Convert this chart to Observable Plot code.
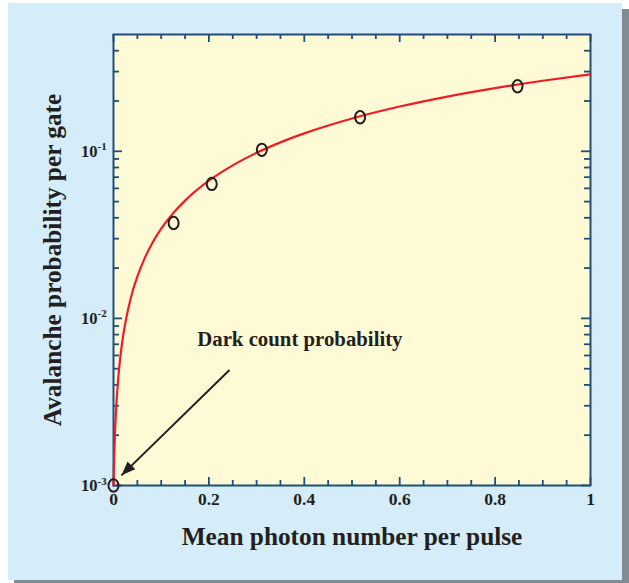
<!DOCTYPE html>
<html>
<head>
<meta charset="utf-8">
<script src="https://cdn.jsdelivr.net/npm/d3@7"></script>
<script src="https://cdn.jsdelivr.net/npm/@observablehq/plot@0.6"></script>
<style>
  html, body { margin: 0; padding: 0; background: #ffffff; }
  #wrap { position: relative; width: 629px; height: 583px; overflow: hidden; }
  #shadow { position: absolute; left: 14px; top: 9px; width: 615px; height: 574px; background: #7f8c93; }
  #panel { position: absolute; left: 8px; top: 3px; width: 614px; height: 577px; background: #d5ecf9; }
  #chart { position: absolute; left: 0; top: 0; }
</style>
</head>
<body>
<div id="wrap">
  <div id="shadow"></div>
  <div id="panel"></div>
  <div id="chart"></div>
</div>
<script>
// ---- data ----
const pointX = [0, 0.126, 0.206, 0.311, 0.517, 0.847];
const pointY = [0.001, 0.0372, 0.0638, 0.102, 0.160, 0.245];

const curveX = [0, 0.002, 0.005, 0.01, 0.015, 0.02, 0.03, 0.04, 0.05, 0.065, 0.08, 0.1, 0.125, 0.15, 0.2, 0.25, 0.3, 0.35, 0.4, 0.5, 0.6, 0.7, 0.8, 0.9, 1.0];
const curveY = [0.001, 0.00168, 0.0027, 0.0044, 0.0061, 0.0078, 0.0111, 0.0145, 0.0178, 0.0228, 0.0278, 0.0344, 0.0426, 0.0507, 0.0667, 0.0824, 0.0979, 0.1131, 0.1280, 0.1572, 0.1853, 0.2126, 0.2388, 0.2643, 0.2889];

const xTickValues = [0, 0.2, 0.4, 0.6, 0.8, 1];
const xTickLabels = ["0", "0.2", "0.4", "0.6", "0.8", "1"];
const xMinorTicks = [0.05, 0.1, 0.15, 0.25, 0.3, 0.35, 0.45, 0.5, 0.55, 0.65, 0.7, 0.75, 0.85, 0.9, 0.95];

const yTickValues = [0.001, 0.01, 0.1];
const yTickBase = ["10", "10", "10"];
const yTickExponents = ["-3", "-2", "-1"];
const yMinorTicks = [0.002, 0.003, 0.004, 0.005, 0.006, 0.007, 0.008, 0.009,
                     0.02, 0.03, 0.04, 0.05, 0.06, 0.07, 0.08, 0.09,
                     0.2, 0.3, 0.4];

const xDomain = [0, 1];
const yDomain = [0.001, 0.5];

const xTitle = "Mean photon number per pulse";
const yTitle = "Avalanche probability per gate";

const noteText = ["Dark count probability"];
const noteX = [0.1755];
const noteY = [0.00685];

const arrowFromX = [0.2432];
const arrowFromY = [0.00491];
const arrowToX = [0.0168];
const arrowToY = [0.00115];

// ---- build ----
const points = pointX.map((x, i) => ({x, y: pointY[i]}));
const curve = curveX.map((x, i) => ({x, y: curveY[i]}));
const yTicks = yTickValues.map((v, i) => ({v, base: yTickBase[i], exp: yTickExponents[i]}));
const xTicks = xTickValues.map((v, i) => ({v, label: xTickLabels[i]}));
const note = noteText.map((t, i) => ({t, x: noteX[i], y: noteY[i]}));
const arrows = arrowFromX.map((x1, i) => ({x1, y1: arrowFromY[i], x2: arrowToX[i], y2: arrowToY[i]}));

const W = 629, H = 583;
const mL = 113, mR = 39, mT = 34, mB = 98;
const pw = W - mL - mR, ph = H - mT - mB;

const axisBlue = "#1f4e7a";
const ink = "#231f20";
const font = "'Liberation Serif', 'Times New Roman', serif";

const ellipse = {
  draw(ctx) {
    const rx = 5, ry = 6.2, k = 0.5523;
    ctx.moveTo(rx, 0);
    ctx.bezierCurveTo(rx, ry * k, rx * k, ry, 0, ry);
    ctx.bezierCurveTo(-rx * k, ry, -rx, ry * k, -rx, 0);
    ctx.bezierCurveTo(-rx, -ry * k, -rx * k, -ry, 0, -ry);
    ctx.bezierCurveTo(rx * k, -ry, rx, -ry * k, rx, 0);
    ctx.closePath();
  }
};
const arrowHead = {
  draw(ctx) {
    ctx.moveTo(0, 0);
    ctx.lineTo(-5.5, 14);
    ctx.lineTo(5.5, 14);
    ctx.closePath();
  }
};

const majorLen = 9, minorLen = 5;

const chart = Plot.plot({
  width: W,
  height: H,
  marginLeft: mL,
  marginRight: mR,
  marginTop: mT,
  marginBottom: mB,
  style: {background: "transparent", overflow: "visible", fontFamily: font},
  x: {domain: xDomain, axis: null},
  y: {type: "log", domain: yDomain, axis: null},
  marks: [
    Plot.frame({fill: "#fefad6", stroke: "none"}),
    // bottom ticks
    Plot.tickX(xTickValues, {x: d => d, insetTop: ph - 8, stroke: axisBlue, strokeWidth: 1.8}),
    Plot.tickX(xMinorTicks, {x: d => d, insetTop: ph - minorLen, stroke: axisBlue, strokeWidth: 1.8}),
    // top ticks
    Plot.tickX(xTickValues, {x: d => d, insetBottom: ph - 8, stroke: axisBlue, strokeWidth: 1.8}),
    Plot.tickX(xMinorTicks, {x: d => d, insetBottom: ph - minorLen, stroke: axisBlue, strokeWidth: 1.8}),
    // left ticks
    Plot.tickY(yTickValues, {y: d => d, insetRight: pw - majorLen, stroke: axisBlue, strokeWidth: 1.8}),
    Plot.tickY(yMinorTicks, {y: d => d, insetRight: pw - minorLen - 1, stroke: axisBlue, strokeWidth: 1.8}),
    // right ticks
    Plot.tickY(yTickValues, {y: d => d, insetLeft: pw - majorLen, stroke: axisBlue, strokeWidth: 1.8}),
    Plot.tickY(yMinorTicks, {y: d => d, insetLeft: pw - minorLen - 1, stroke: axisBlue, strokeWidth: 1.8}),
    Plot.frame({stroke: axisBlue, strokeWidth: 2}),
    // fitted curve
    Plot.line(curve, {x: "x", y: "y", stroke: "#ee1c25", strokeWidth: 2.2, curve: "monotone-x"}),
    // measured points
    Plot.dot(points, {x: "x", y: "y", symbol: ellipse, fill: "none", stroke: ink, strokeWidth: 2}),
    // annotation arrow
    Plot.link(arrows, {x1: "x1", y1: "y1", x2: "x2", y2: "y2", stroke: ink, strokeWidth: 2, inset: 0}),
    Plot.dot(arrows, {x: "x2", y: "y2", symbol: arrowHead, rotate: 225, fill: ink, stroke: "none"}),
    Plot.text(note, {x: "x", y: "y", text: "t", textAnchor: "start", lineAnchor: "bottom",
      fontSize: 20.8, fontWeight: "bold", fill: ink}),
    // x tick labels
    Plot.text(xTicks, {x: "v", frameAnchor: "bottom", text: "label", textAnchor: "middle", lineAnchor: "top", dy: 7,
      fontSize: 17.5, fontWeight: "bold", fill: ink}),
    // y tick labels (10 with superscript exponent)
    Plot.text(yTicks, {y: "v", frameAnchor: "left", text: "base", textAnchor: "end", dx: -16,
      fontSize: 16.5, fontWeight: "bold", fill: ink}),
    Plot.text(yTicks, {y: "v", frameAnchor: "left", text: "exp", textAnchor: "start", dx: -16, dy: -1,
      lineAnchor: "bottom", fontSize: 11, fontWeight: "bold", fill: ink}),
    // axis titles
    Plot.text([xTitle], {frameAnchor: "bottom", text: d => d, textAnchor: "middle", dy: 59, lineAnchor: "bottom",
      fontSize: 25.3, fontWeight: "bold", fill: ink}),
    Plot.text([yTitle], {frameAnchor: "left", text: d => d, textAnchor: "middle", dx: -53, rotate: -90, lineAnchor: "bottom",
      fontSize: 25.3, fontWeight: "bold", fill: ink})
  ]
});
document.getElementById("chart").appendChild(chart);
</script>
</body>
</html>
